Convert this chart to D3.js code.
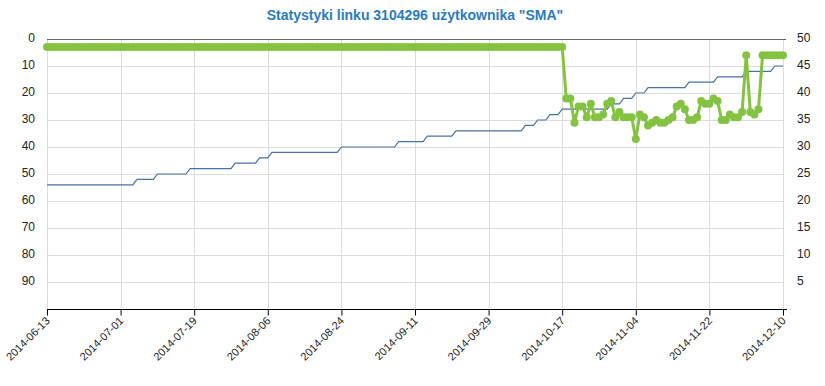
<!DOCTYPE html>
<html>
<head>
<meta charset="utf-8">
<script src="https://cdn.jsdelivr.net/npm/d3@7"></script>
<style>
  body { margin: 0; background: #fff; }
  svg { display: block; font-family: "Liberation Sans", Arial, sans-serif; }
  .grid line { stroke: #dcdcdc; stroke-width: 1; }
  .axis text { fill: #222; }
</style>
</head>
<body>
<script>
const title = 'Statystyki linku 3104296 użytkownika "SMA"';
const startDay = '2014-06-13';

// daily position of the link (left axis, reversed)
const positions = [
  3, 3, 3, 3, 3, 3, 3, 3, 3, 3, 3, 3, 3, 3, 3, 3, 3, 3, 3, 3,
  3, 3, 3, 3, 3, 3, 3, 3, 3, 3, 3, 3, 3, 3, 3, 3, 3, 3, 3, 3,
  3, 3, 3, 3, 3, 3, 3, 3, 3, 3, 3, 3, 3, 3, 3, 3, 3, 3, 3, 3,
  3, 3, 3, 3, 3, 3, 3, 3, 3, 3, 3, 3, 3, 3, 3, 3, 3, 3, 3, 3,
  3, 3, 3, 3, 3, 3, 3, 3, 3, 3, 3, 3, 3, 3, 3, 3, 3, 3, 3, 3,
  3, 3, 3, 3, 3, 3, 3, 3, 3, 3, 3, 3, 3, 3, 3, 3, 3, 3, 3, 3,
  3, 3, 3, 3, 3, 3, 3,
  22, 22, 31, 25, 25, 29, 24, 29, 29, 28, 24, 23, 29, 27, 29, 29, 29, 37,
  28, 29, 32, 31, 30, 31, 31, 30, 29, 25, 24, 26, 30, 30, 29, 23, 24, 24,
  22, 23, 30, 30, 28, 29, 29, 27, 6, 27, 28, 26, 6, 6, 6, 6, 6, 6
];

// daily score (right axis)
const scores = [
  23, 23, 23, 23, 23, 23, 23, 23, 23, 23, 23, 23, 23, 23, 23, 23, 23, 23, 23, 23,
  23, 23, 24, 24, 24, 24, 24, 25, 25, 25, 25, 25, 25, 25, 25, 26, 26, 26, 26, 26,
  26, 26, 26, 26, 26, 26, 27, 27, 27, 27, 27, 27, 28, 28, 28, 29, 29, 29, 29, 29,
  29, 29, 29, 29, 29, 29, 29, 29, 29, 29, 29, 29, 30, 30, 30, 30, 30, 30, 30, 30,
  30, 30, 30, 30, 30, 30, 31, 31, 31, 31, 31, 31, 31, 32, 32, 32, 32, 32, 32, 32,
  33, 33, 33, 33, 33, 33, 33, 33, 33, 33, 33, 33, 33, 33, 33, 33, 33, 34, 34, 34,
  35, 35, 35, 36, 36, 36, 37, 37, 37, 37, 37, 37, 37, 37, 37, 37, 37, 37, 38, 38,
  38, 39, 39, 39, 40, 40, 40, 41, 41, 41, 41, 41, 41, 41, 41, 41, 41, 42, 42, 42,
  42, 42, 42, 42, 43, 43, 43, 43, 43, 43, 43, 44, 44, 44, 44, 44, 44, 44, 45, 45,
  45
];

const xTickLabels = [
  '2014-06-13', '2014-07-01', '2014-07-19', '2014-08-06', '2014-08-24',
  '2014-09-11', '2014-09-29', '2014-10-17', '2014-11-04', '2014-11-22', '2014-12-10'
];
const leftTicks = [0, 10, 20, 30, 40, 50, 60, 70, 80, 90];
const rightTicks = [5, 10, 15, 20, 25, 30, 35, 40, 45, 50];

const width = 825;
const height = 386;
const margin = { left: 47, right: 42, top: 39, bottom: 77 };

const parse = d3.utcParse('%Y-%m-%d');
const start = parse(startDay);
const dayOf = (i) => d3.utcDay.offset(start, i);

const svg = d3
  .select('body')
  .append('svg')
  .attr('width', width)
  .attr('height', height);

const x = d3
  .scaleUtc()
  .domain([parse(xTickLabels[0]), parse(xTickLabels[xTickLabels.length - 1])])
  .range([margin.left, width - margin.right]);

const yLeft = d3
  .scaleLinear()
  .domain([0, 100])
  .range([margin.top, height - margin.bottom]);

const yRight = d3
  .scaleLinear()
  .domain([0, 50])
  .range([height - margin.bottom, margin.top]);

// Title
svg
  .append('text')
  .attr('x', 415)
  .attr('y', 20)
  .attr('text-anchor', 'middle')
  .attr('font-size', 14)
  .attr('font-weight', 'bold')
  .attr('fill', '#2b7bbf')
  .text(title);

// grid
const grid = svg.append('g').attr('class', 'grid');
grid
  .selectAll('line.h')
  .data(leftTicks.filter((d) => d > 0))
  .enter()
  .append('line')
  .attr('x1', margin.left)
  .attr('x2', width - margin.right)
  .attr('y1', (d) => yLeft(d) + 0.5)
  .attr('y2', (d) => yLeft(d) + 0.5);
grid
  .selectAll('line.v')
  .data(xTickLabels.map(parse))
  .enter()
  .append('line')
  .attr('x1', (d) => Math.round(x(d)) + 0.5)
  .attr('x2', (d) => Math.round(x(d)) + 0.5)
  .attr('y1', margin.top)
  .attr('y2', height - margin.bottom);

svg
  .append('line')
  .attr('x1', margin.left)
  .attr('x2', width - margin.right + 3)
  .attr('y1', yLeft(0) + 0.5)
  .attr('y2', yLeft(0) + 0.5)
  .attr('stroke', '#666');

// left axis
svg
  .append('g')
  .attr('class', 'axis')
  .attr('transform', `translate(${margin.left},0)`)
  .call(d3.axisLeft(yLeft).tickValues(leftTicks).tickSize(0).tickPadding(12))
  .call((g) => g.select('.domain').remove())
  .selectAll('text')
  .attr('font-size', 12)
  .attr('dy', '0.2em');

// right axis
svg
  .append('g')
  .attr('class', 'axis')
  .attr('transform', `translate(${width - margin.right},0)`)
  .call(d3.axisRight(yRight).tickValues(rightTicks).tickSize(0).tickPadding(14))
  .call((g) => g.select('.domain').remove())
  .selectAll('text')
  .attr('font-size', 12)
  .attr('dy', '0.2em');

// bottom axis
const xAxis = svg
  .append('g')
  .attr('class', 'axis')
  .attr('transform', `translate(0,${height - margin.bottom + 0.5})`)
  .call(
    d3
      .axisBottom(x)
      .tickValues(xTickLabels.map(parse))
      .tickFormat(d3.utcFormat('%Y-%m-%d'))
      .tickSize(6)
      .tickSizeOuter(0)
  );
xAxis.select('.domain').remove();
xAxis
  .append('line')
  .attr('x1', margin.left)
  .attr('x2', width - margin.right + 4)
  .attr('stroke', '#000');
xAxis.selectAll('.tick line').attr('stroke', '#000');
xAxis
  .selectAll('.tick text')
  .attr('font-size', 11)
  .attr('text-anchor', 'end')
  .attr('dy', null)
  .attr('y', 0)
  .attr('transform', 'translate(3,12) rotate(-45)');

// score line (right axis)
svg
  .append('path')
  .datum(scores)
  .attr('fill', 'none')
  .attr('stroke', '#4572a7')
  .attr('stroke-width', 1.2)
  .attr(
    'd',
    d3
      .line()
      .x((d, i) => x(dayOf(i)))
      .y((d) => yRight(d))
  );

// position line (left axis)
const green = '#84c341';
svg
  .append('path')
  .datum(positions)
  .attr('fill', 'none')
  .attr('stroke', green)
  .attr('stroke-width', 3)
  .attr('stroke-linejoin', 'round')
  .attr(
    'd',
    d3
      .line()
      .x((d, i) => x(dayOf(i)))
      .y((d) => yLeft(d))
  );

svg
  .append('g')
  .selectAll('circle')
  .data(positions)
  .enter()
  .append('circle')
  .attr('cx', (d, i) => x(dayOf(i)))
  .attr('cy', (d) => yLeft(d))
  .attr('r', 4)
  .attr('fill', green);
</script>
</body>
</html>
